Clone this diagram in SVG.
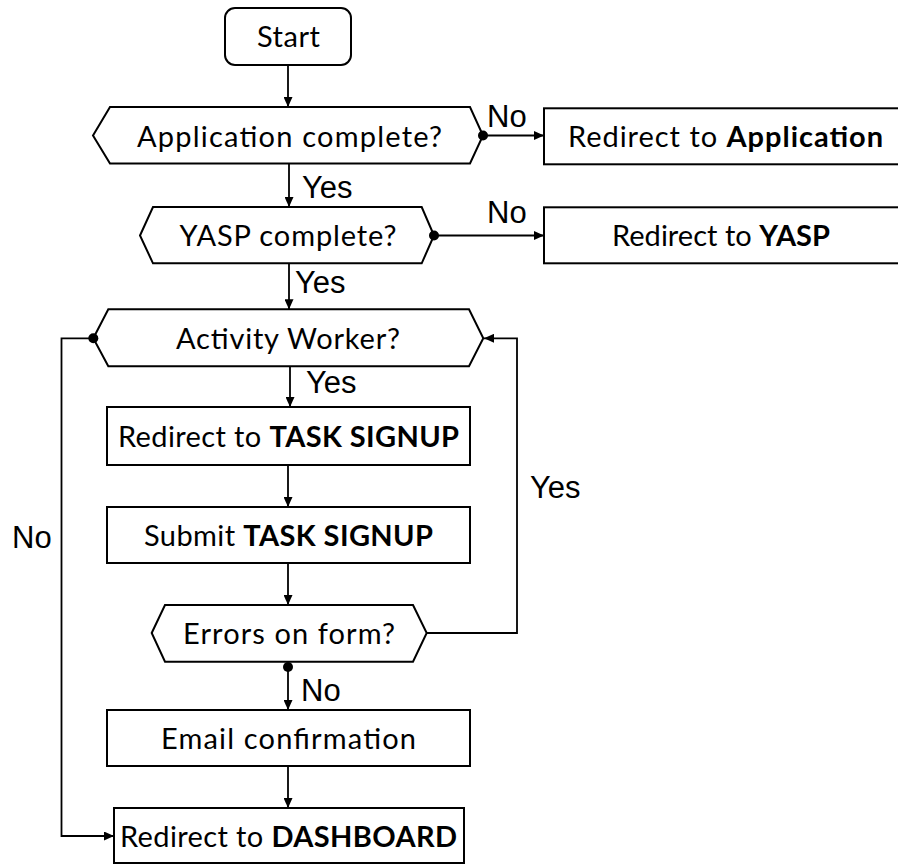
<svg xmlns="http://www.w3.org/2000/svg" width="898" height="865" viewBox="0 0 898 865">
  <defs>
    <marker id="arrow" markerWidth="10" markerHeight="9" refX="10" refY="4.5" orient="auto" markerUnits="userSpaceOnUse">
      <path d="M0,0 L10,4.5 L0,9 Z" fill="#000"/>
    </marker>
    <marker id="dot" markerWidth="12" markerHeight="12" refX="6" refY="6" markerUnits="userSpaceOnUse">
      <circle cx="6" cy="6" r="5" fill="#000"/>
    </marker>
  </defs>
  <style>
    .shape { fill: #fff; stroke: #000; stroke-width: 2; stroke-linejoin: miter; }
    .node-text { font-family: Lato, "Open Sans", sans-serif; font-size: 29px; fill: #000; }
    .b { font-weight: 700; }
    .edge { fill: none; stroke: #000; stroke-width: 1.8; }
    .label { font-family: "Liberation Sans", Arial, sans-serif; font-size: 31px; fill: #000; }
  </style>
  <rect width="898" height="865" fill="#fff"/>

  <!-- nodes -->
  <g id="start">
    <rect class="shape" x="225" y="8" width="126" height="57" rx="10" ry="10"/>
    <text class="node-text" x="257" y="47" textLength="63">Start</text>
  </g>

  <g id="application-complete">
    <polygon class="shape" points="93,135.5 110,107 470,107 483,135.5 470,163.5 110,163.5"/>
    <text class="node-text" x="137" y="146.5" textLength="305">Application complete?</text>
  </g>

  <g id="redirect-application">
    <rect class="shape" x="544" y="108.3" width="370" height="56"/>
    <text class="node-text" x="568" y="147" textLength="315">Redirect to <tspan class="b">Application</tspan></text>
  </g>

  <g id="yasp-complete">
    <polygon class="shape" points="140,235.5 153,207 421.7,207 434,235.5 421.7,263.3 153,263.3"/>
    <text class="node-text" x="179.5" y="246" textLength="217">YASP complete?</text>
  </g>

  <g id="redirect-yasp">
    <rect class="shape" x="544" y="207.3" width="370" height="56"/>
    <text class="node-text" x="612" y="246.3" textLength="218">Redirect to <tspan class="b">YASP</tspan></text>
  </g>

  <g id="activity-worker">
    <polygon class="shape" points="93.3,338.3 108.3,309.3 469,309.3 483.3,338.3 469,366.3 108.3,366.3"/>
    <text class="node-text" x="176" y="349" textLength="224">Activity Worker?</text>
  </g>

  <g id="redirect-task-signup">
    <rect class="shape" x="107" y="407" width="363" height="58"/>
    <text class="node-text" x="118" y="447" textLength="341">Redirect to <tspan class="b">TASK SIGNUP</tspan></text>
  </g>

  <g id="submit-task-signup">
    <rect class="shape" x="107" y="507" width="363" height="56"/>
    <text class="node-text" x="144" y="545.5" textLength="289">Submit <tspan class="b">TASK SIGNUP</tspan></text>
  </g>

  <g id="errors-on-form">
    <polygon class="shape" points="151.7,633 165,605 413,605 426.7,633 413,661.7 165,661.7"/>
    <text class="node-text" x="183" y="643.5" textLength="212">Errors on form?</text>
  </g>

  <g id="email-confirmation">
    <rect class="shape" x="107" y="710" width="363" height="56"/>
    <text class="node-text" x="161" y="749" textLength="255">Email confirmation</text>
  </g>

  <g id="redirect-dashboard">
    <rect class="shape" x="114" y="808" width="350" height="55"/>
    <text class="node-text" x="120" y="846.5" textLength="337">Redirect to <tspan class="b">DASHBOARD</tspan></text>
  </g>

  <!-- connectors, drawn over the node outlines so the branch dots show whole -->
  <g id="connectors">
    <line class="edge" x1="288" y1="65" x2="288" y2="107" marker-end="url(#arrow)"/>
    <line class="edge" x1="483" y1="135.5" x2="544" y2="135.5" marker-start="url(#dot)" marker-end="url(#arrow)"/>
    <line class="edge" x1="289" y1="163.5" x2="289" y2="207" marker-end="url(#arrow)"/>
    <line class="edge" x1="434" y1="235.5" x2="544" y2="235.5" marker-start="url(#dot)" marker-end="url(#arrow)"/>
    <line class="edge" x1="289" y1="263.3" x2="289" y2="309.3" marker-end="url(#arrow)"/>
    <line class="edge" x1="290" y1="366.3" x2="290" y2="407" marker-end="url(#arrow)"/>
    <line class="edge" x1="288" y1="465" x2="288" y2="507" marker-end="url(#arrow)"/>
    <line class="edge" x1="288" y1="563" x2="288" y2="605" marker-end="url(#arrow)"/>
    <line class="edge" x1="288" y1="667" x2="288" y2="710" marker-start="url(#dot)" marker-end="url(#arrow)"/>
    <line class="edge" x1="288" y1="766" x2="288" y2="808" marker-end="url(#arrow)"/>
    <polyline class="edge" points="427,633 517,633 517,338.3 484,338.3" marker-end="url(#arrow)"/>
    <polyline class="edge" points="93.3,338.3 61.5,338.3 61.5,836 114,836" marker-start="url(#dot)" marker-end="url(#arrow)"/>

    <text class="label" x="487" y="127">No</text>
    <text class="label" x="302" y="198">Yes</text>
    <text class="label" x="487" y="223">No</text>
    <text class="label" x="295" y="293">Yes</text>
    <text class="label" x="306" y="393">Yes</text>
    <text class="label" x="530" y="498">Yes</text>
    <text class="label" x="12" y="548">No</text>
    <text class="label" x="301" y="701">No</text>
  </g>
</svg>
